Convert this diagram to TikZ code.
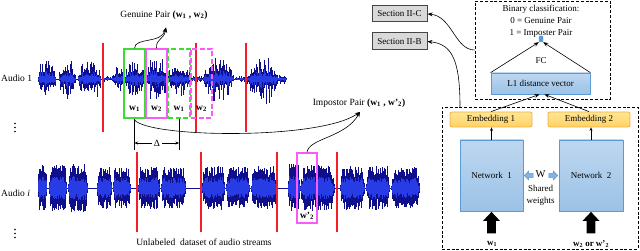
\documentclass[tikz,border=0pt]{standalone}
\usepackage{fontspec}
\setmainfont{Liberation Serif}
\usetikzlibrary{arrows.meta,calc}
\definecolor{wavedark}{RGB}{15,15,140}
\definecolor{wavelight}{RGB}{40,60,230}
\definecolor{redl}{RGB}{245,30,40}
\definecolor{greenb}{RGB}{60,220,50}
\definecolor{magb}{RGB}{250,90,250}
\definecolor{bluetop}{RGB}{190,215,240}
\definecolor{bluebot}{RGB}{155,194,230}
\definecolor{blueedge}{RGB}{91,155,213}
\definecolor{bluearr}{RGB}{130,180,228}
\definecolor{embtop}{RGB}{255,230,150}
\definecolor{embbot}{RGB}{255,210,100}
\definecolor{embedge}{RGB}{240,175,60}
\definecolor{secfill}{RGB}{217,217,217}
\definecolor{secedge}{RGB}{70,70,70}
\begin{document}
\begin{tikzpicture}[x=1pt,y=-1pt,
  font=\fontsize{9.5}{11}\selectfont,
  lbl/.style={inner sep=0pt},
  rlbl/.style={inner sep=0pt, font=\fontsize{9}{11.8}\selectfont},
  waveout/.style={draw=wavedark, line width=0.8pt},
  wavein/.style={draw=wavelight, line width=0.8pt},
  redline/.style={draw=redl, line width=1.3pt},
  winbox/.style={draw, line width=1.5pt, minimum width=#1, minimum height=69pt, inner sep=0pt},
  arr/.style={-{Stealth[length=5pt,width=4pt]}, line width=0.6pt},
  sarr/.style={-{Stealth[length=3.5pt,width=3pt]}, line width=0.6pt},
  secbox/.style={draw=secedge, line width=1pt, fill=secfill, minimum width=55pt, minimum height=16pt, inner sep=0pt, font=\fontsize{9}{10}\selectfont},
  dashbox/.style={draw, dash pattern=on 3pt off 1.8pt, line width=0.8pt, inner sep=0pt},
  bluebox/.style={draw=blueedge, line width=0.8pt, top color=bluetop, bottom color=bluebot, inner sep=0pt, font=\fontsize{9}{10}\selectfont},
  embbox/.style={draw=embedge, line width=0.8pt, top color=embtop, bottom color=embbot, rounded corners=2pt, minimum width=82pt, minimum height=15pt, inner sep=0pt, font=\fontsize{9}{10}\selectfont},
  blockarr/.style={fill=bluearr, draw=blueedge, line width=0.5pt},
  vdot/.style={circle, fill, inner sep=0pt, minimum size=1.6pt}
]
\useasboundingbox (0,0) rectangle (640,251);
\pgfmathsetseed{11}

% ---------- Audio 1 waveform ----------
\draw[waveout, line width=0.6pt] (38,79) -- (287,79);
\foreach \s/\e/\a in {38/56/30, 59/76/24, 78/101/28, 103/112/4, 112/125/17, 125/146/25, 147/167/30, 168/191/22, 191/203/5, 203/234/25, 235/247/4, 247/278/28, 278/287/6}{
  \pgfmathsetmacro\mysB{\s+0.6}
  \foreach \x in {\s,\mysB,...,\e}{
    \pgfmathsetmacro\myenv{\a*sqrt(abs(sin(180*(\x-\s)/(\e-\s))))}
    \pgfmathsetmacro\hT{\myenv*(0.22+0.78*rnd*rnd)}
    \pgfmathsetmacro\hB{\myenv*(0.22+0.78*rnd*rnd)}
    \draw[waveout] (\x,79-\hT) -- (\x,79+\hB);
    \draw[wavein] (\x,{79-0.45*\hT}) -- (\x,{79+0.45*\hB});
  }
}

% ---------- Audio i waveform ----------
\draw[waveout, line width=0.6pt] (38,188) -- (420,188);
\foreach \s/\e/\a in {38/47/24, 49/67/23, 68/88/24, 97/112/21, 113/131/20, 138/160/22, 161/186/21, 202/225/22, 226/250/21, 251/277/22, 288/300/25, 300/335/23, 340/365/22, 366/390/22, 391/420/21}{
  \pgfmathsetmacro\mysB{\s+0.6}
  \foreach \x in {\s,\mysB,...,\e}{
    \pgfmathsetmacro\myenv{\a*min(1,3*sin(180*(\x-\s)/(\e-\s)))}
    \pgfmathsetmacro\hT{\myenv*(0.5+0.5*rnd)}
    \pgfmathsetmacro\hB{\myenv*(0.5+0.5*rnd)}
    \draw[waveout] (\x,188-\hT) -- (\x,188+\hB);
    \draw[wavein] (\x,{188-0.5*\hT}) -- (\x,{188+0.5*\hB});
  }
}

% ---------- red separators ----------
\foreach \xx in {103,196,246}{ \draw[redline] (\xx,43) -- (\xx,132); }
\foreach \xx in {137,201,277,337}{ \draw[redline] (\xx,152) -- (\xx,232); }

% ---------- labels left ----------
\node[lbl, anchor=west] (a1) at (1,78) {Audio 1};
\node[lbl, anchor=west] (ai) at (1,193) {Audio \textit{i}};
\foreach \yy [count=\k] in {123.5,127.5,131.5}{ \node[vdot] (da\k) at (15,\yy) {}; }
\foreach \yy [count=\k] in {229.5,233.5,237.5}{ \node[vdot] (db\k) at (15,\yy) {}; }
\node[lbl] (unl) at (204,242) {Unlabeled\ \ dataset of audio streams};

% ---------- window boxes ----------
\node[winbox=21pt, draw=greenb] (g1) at (134.5,83.5) {};
\node[winbox=21pt, draw=magb] (m1) at (156.5,83.5) {};
\node[winbox=22pt, draw=greenb, dash pattern=on 5pt off 2.5pt] (g2) at (179,83.5) {};
\node[winbox=21pt, draw=magb, dash pattern=on 5pt off 2.5pt] (m2) at (201.5,83.5) {};
\node[lbl] (lw1) at (134.5,109) {\textbf{w\textsubscript{1}}};
\node[lbl] (lw2) at (156.5,109) {\textbf{w\textsubscript{2}}};
\node[lbl] (lw3) at (179,109) {\textbf{w\textsubscript{1}}};
\node[lbl] (lw4) at (201.5,109) {\textbf{w\textsubscript{2}}};

\node[draw=magb, line width=1.5pt, minimum width=20pt, minimum height=70pt, inner sep=0pt] (wp) at (307,188) {};
\node[lbl] (lwp) at (307,216) {\textbf{w'\textsubscript{2}}};

% ---------- Delta ----------
\coordinate (d1) at (134.5,150);
\coordinate (d2) at (179,150);
\draw[line width=0.6pt] (g1.south) -- (d1);
\draw[line width=0.6pt] (g2.south) -- (d2);
\node[lbl] (delta) at (157,143) {Δ};
\draw[sarr] ($(delta.west)+(-2,0)$) -- (134.5,143);
\draw[sarr] ($(delta.east)+(2,0)$) -- (179,143);

% ---------- pair labels and arrows ----------
\node[lbl] (gen) at (164,15) {Genuine Pair \textbf{(w\textsubscript{1} , w\textsubscript{2})}};
\coordinate (gtip) at (166,27.5);
\draw[arr] (g1.north) .. controls (135,37) and (161,44) .. (gtip);
\draw[arr] (m1.north) .. controls (156,38) and (164,40) .. (gtip);

\node[lbl] (imp) at (359,103) {Impostor Pair \textbf{(w\textsubscript{1} , w'\textsubscript{2})}};
\coordinate (itip) at (360,112);
\coordinate (ic) at (134.5,120);
\draw[arr] (ic) .. controls (150,138) and (320,140) .. (itip);
\draw[arr] (wp.north) .. controls (309,138) and (345,138) .. (itip);

% ---------- right side ----------
\node[secbox] (secC) at (399.5,14) {Section II-C};
\node[secbox, minimum height=17pt] (secB) at (399.5,41.5) {Section II-B};

\node[dashbox, minimum width=135pt, minimum height=98pt] (top) at (542.5,50) {};
\node[dashbox, minimum width=196pt, minimum height=142pt] (bot) at (540,178) {};

\node[rlbl, align=center] (bin) at (541,21) {Binary classification:\\0 = Genuine Pair\\1 = Imposter Pair};
\node[draw=blueedge, fill=blueedge, rounded corners=1pt, minimum width=4pt, minimum height=6pt, inner sep=0pt] (fc) at (541,39) {};
\node[rlbl] (fct) at (541,61) {FC};
\node[bluebox, minimum width=99pt, minimum height=21pt] (l1) at (540.5,83.5) {L1 distance vector};
\draw[arr] (l1.north west) -- (fc.south west);
\draw[arr] (l1.north east) -- (fc.south east);

\node[embbox] (e1) at (491,119.5) {Embedding 1};
\node[embbox] (e2) at (589,119.5) {Embedding 2};
\draw[arr] (e1.north) -- ($(l1.south)+(-1,0)$);
\draw[arr] (e2.north) -- ($(l1.south)+(4,0)$);

\node[bluebox, minimum width=63pt, minimum height=71pt] (n1) at (491.5,175.5) {Network\ \ 1};
\node[bluebox, minimum width=64pt, minimum height=71pt] (n2) at (591,175.5) {Network\ \ 2};
\draw[sarr] (n1.north) -- (n1.north |- e1.south);
\draw[sarr] (n2.north) -- (n2.north |- e2.south);

\node[lbl, font=\fontsize{10.5}{11}\selectfont] (wt) at (540.5,174.5) {W};
\node[rlbl, align=center] (shw) at (540.5,195) {Shared\\weights};
\path[blockarr] ($(n1.east)+(0.8,0)$) -- ++(4.5,-4.5) -- ++(0,2.3) -- ++(4.5,0) -- ++(0,4.4) -- ++(-4.5,0) -- ++(0,2.3) -- cycle;
\path[blockarr] ($(n2.west)+(-0.8,0)$) -- ++(-4.5,-4.5) -- ++(0,2.3) -- ++(-4.5,0) -- ++(0,4.4) -- ++(4.5,0) -- ++(0,2.3) -- cycle;

\fill ($(n1.south)+(0,0.5)$) -- ++(8.5,9) -- ++(-4.2,0) -- ++(0,12.5) -- ++(-8.6,0) -- ++(0,-12.5) -- ++(-4.2,0) -- cycle;
\fill ($(n2.south)+(0,0.5)$) -- ++(8.5,9) -- ++(-4.2,0) -- ++(0,12.5) -- ++(-8.6,0) -- ++(0,-12.5) -- ++(-4.2,0) -- cycle;
\node[rlbl] (in1) at (492,244) {\textbf{w\textsubscript{1}}};
\node[rlbl] (in2) at (591,244) {\textbf{w\textsubscript{2} or w'\textsubscript{2}}};

% ---------- section arrows ----------
\coordinate (bB) at (460,107);
\draw[arr] (top.west) .. controls (455,50) and (452,16) .. (secC.east);
\draw[arr] (bB) .. controls (460,60) and (452,44) .. (secB.east);
\end{tikzpicture}
\end{document}
